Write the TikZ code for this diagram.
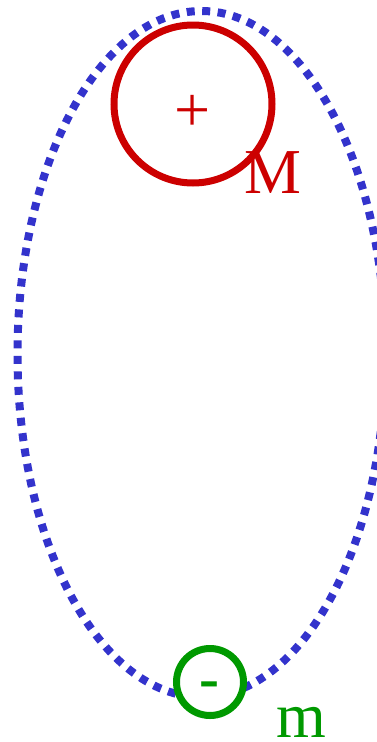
\documentclass[tikz,border=0pt]{standalone}
\usepackage{fontspec}
\setmainfont{Liberation Serif}
\definecolor{orbitblue}{HTML}{3333CC}
\definecolor{bigred}{HTML}{CC0000}
\definecolor{smallgreen}{HTML}{009900}
\tikzset{
  orbit/.style={orbitblue, line width=8pt, dash pattern=on 8pt off 7.5pt},
  body/.style={circle, line width=7pt, fill=white, inner sep=0pt},
  lbl/.style={inner sep=0pt, font=\fontsize{64}{64}\selectfont},
}
\begin{document}
\begin{tikzpicture}[x=1pt,y=-1pt]
\useasboundingbox (0,0) rectangle (377,742);
\begin{scope}
\clip (0,0) rectangle (377,742);
\draw[orbit] (201.5,354) ellipse [x radius=184, y radius=343];
\end{scope}
\node[body, draw=bigred, minimum size=158pt] (M) at (193,104) {};
\node[lbl, text=bigred] (plus) at (193,113) {+};
\node[lbl, text=bigred, anchor=base west] (Mlabel) at (244,193) {M};
\node[body, draw=smallgreen, minimum size=67pt] (m) at (210,682) {};
\node[lbl, text=smallgreen, font=\fontsize{60}{60}\selectfont\bfseries] (minus) at (209,690) {-};
\node[lbl, text=smallgreen, anchor=base west] (mlabel) at (276,737) {m};
\end{tikzpicture}
\end{document}
